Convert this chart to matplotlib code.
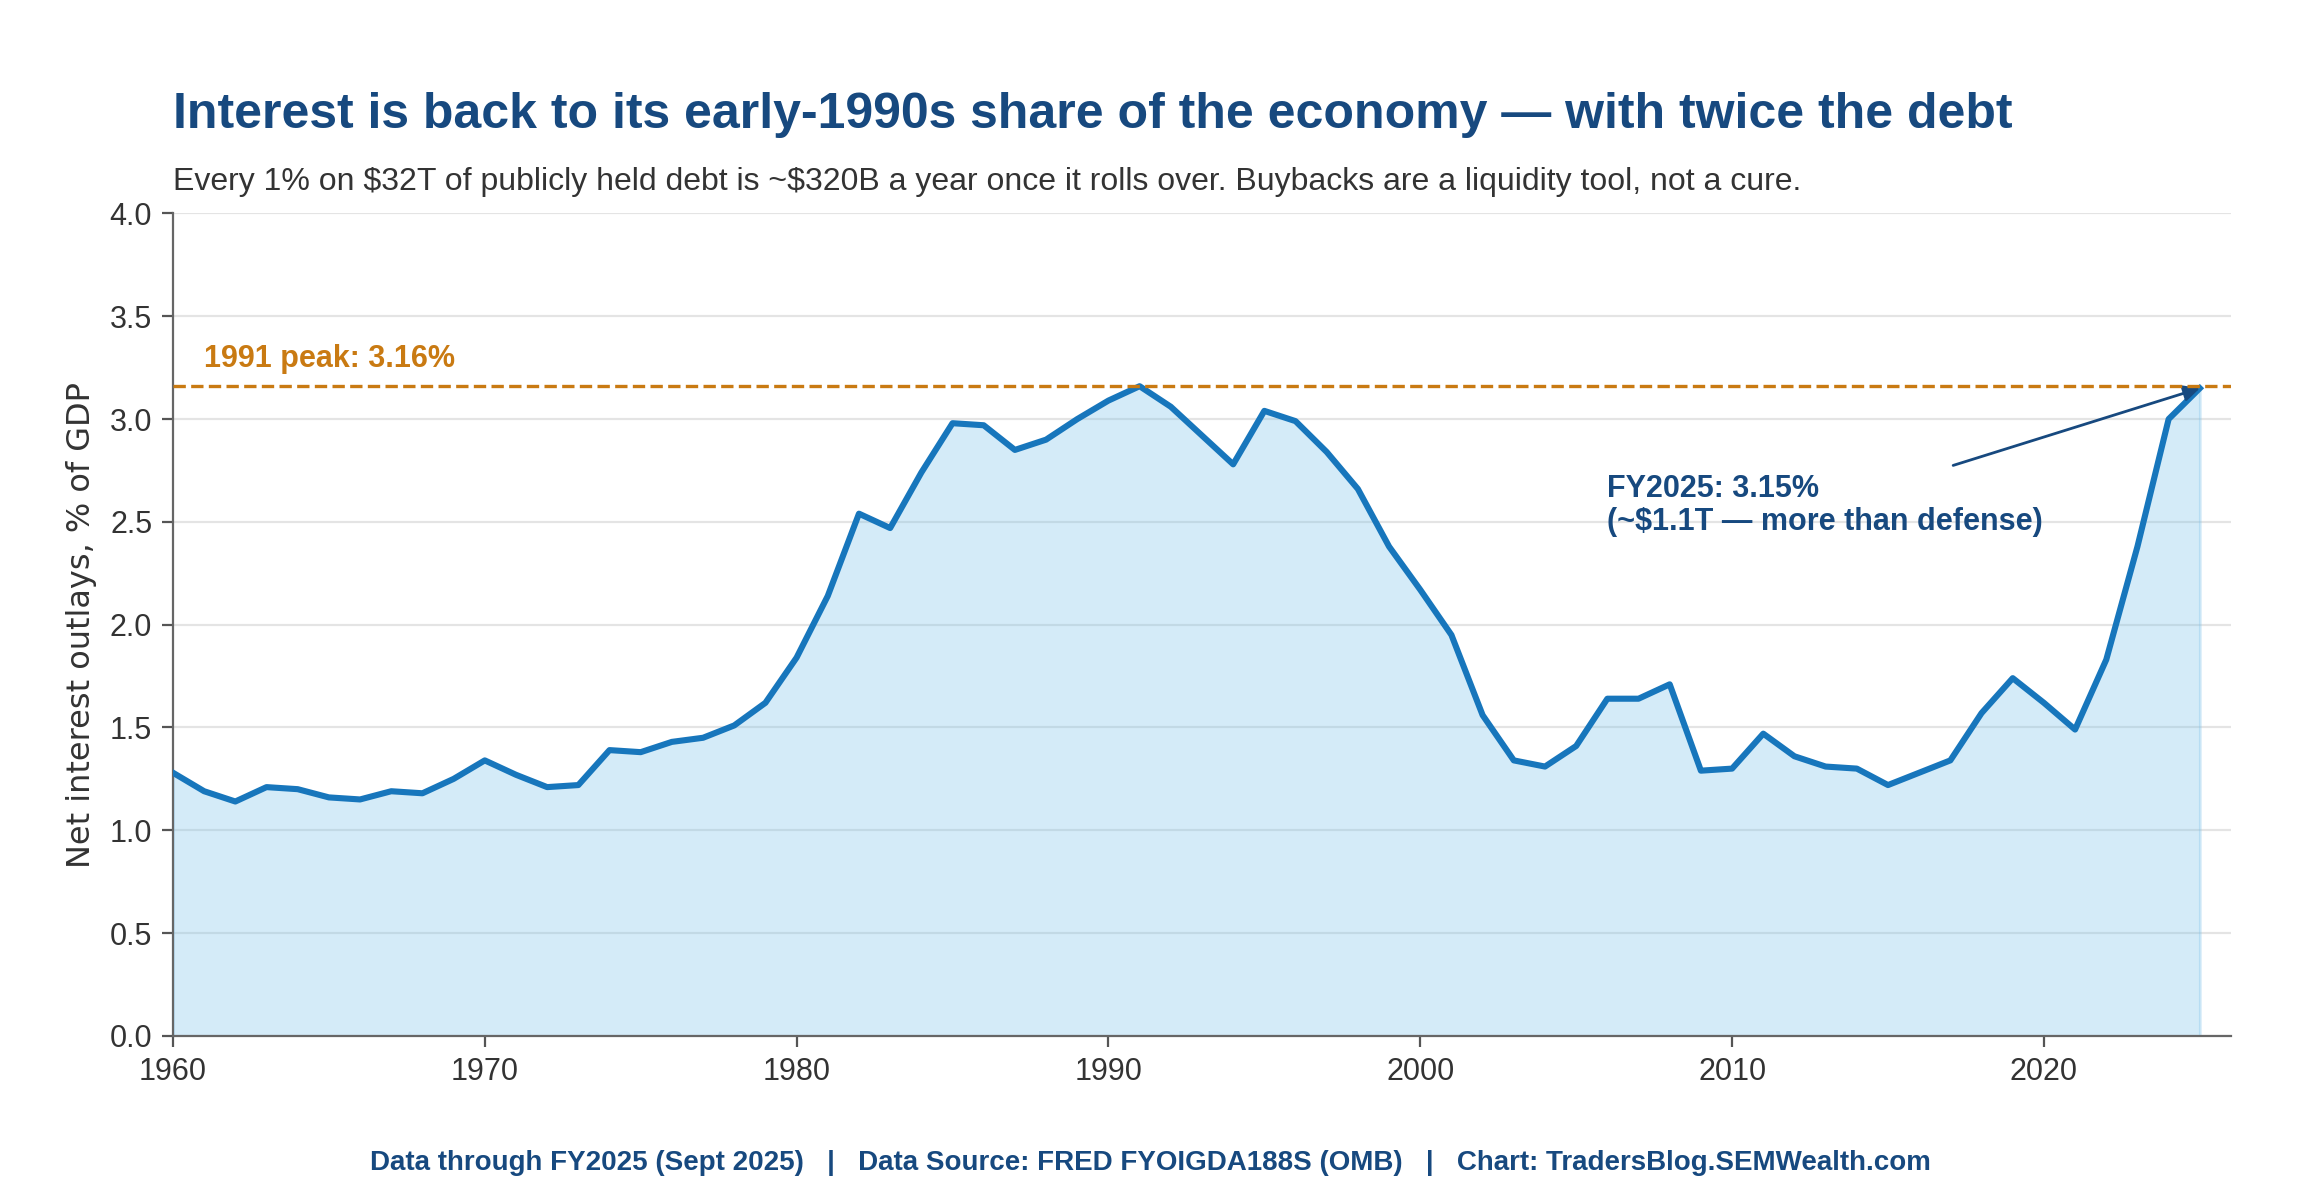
import numpy as np
import matplotlib
matplotlib.use('Agg')
import matplotlib.pyplot as plt
from matplotlib.ticker import FormatStrFormatter

# Net interest outlays as % of GDP, FY1960-FY2025
years = list(range(1960, 2026))
interest_pct = [
    1.28, 1.19, 1.14, 1.21, 1.20, 1.16, 1.15, 1.19, 1.18, 1.25,  # 1960s
    1.34, 1.27, 1.21, 1.22, 1.39, 1.38, 1.43, 1.45, 1.51, 1.62,  # 1970s
    1.84, 2.14, 2.54, 2.47, 2.74, 2.98, 2.97, 2.85, 2.90, 3.00,  # 1980s
    3.09, 3.16, 3.06, 2.92, 2.78, 3.04, 2.99, 2.84, 2.66, 2.38,  # 1990s
    2.17, 1.95, 1.56, 1.34, 1.31, 1.41, 1.64, 1.64, 1.71, 1.29,  # 2000s
    1.30, 1.47, 1.36, 1.31, 1.30, 1.22, 1.28, 1.34, 1.57, 1.74,  # 2010s
    1.62, 1.49, 1.83, 2.38, 3.00, 3.15,                          # 2020s
]
peak_1991 = 3.16
latest_year = 2025
latest_val = 3.15
x_ticks = [1960, 1970, 1980, 1990, 2000, 2010, 2020]
y_ticks = [0.0, 0.5, 1.0, 1.5, 2.0, 2.5, 3.0, 3.5, 4.0]

title = 'Interest is back to its early-1990s share of the economy \u2014 with twice the debt'
subtitle = ('Every 1% on $32T of publicly held debt is ~$320B a year once it rolls over. '
            'Buybacks are a liquidity tool, not a cure.')
footer = ('Data through FY2025 (Sept 2025)   |   Data Source: FRED FYOIGDA188S (OMB)   |   '
          'Chart: TradersBlog.SEMWealth.com')

navy = '#17497F'
line_blue = '#1776BC'
orange = '#C97A12'
text_gray = '#333333'

plt.rcParams['font.family'] = ['Liberation Sans', 'DejaVu Sans']

fig = plt.figure(figsize=(11.5, 5.95), dpi=200)
ax = fig.add_axes([0.0752, 0.1295, 0.8948, 0.6911])

ax.fill_between(years, interest_pct, 0, color='#7EC3EA', alpha=0.33, zorder=2)
ax.plot(years, interest_pct, color=line_blue, lw=2.2, zorder=3)

ax.axhline(peak_1991, color=orange, lw=1.2, ls='--', zorder=4)
ax.text(1961, 3.22, '1991 peak: 3.16%', color=orange, fontsize=11,
        fontweight='bold', ha='left', va='bottom')

ax.annotate('FY2025: 3.15%\n(~$1.1T \u2014 more than defense)',
            xy=(latest_year, latest_val), xytext=(2006, 2.58),
            ha='left', va='center', fontsize=11, fontweight='bold', color=navy,
            linespacing=1.1, parse_math=False,
            arrowprops=dict(arrowstyle='-|>', color=navy, lw=1.0,
                            mutation_scale=12, shrinkA=4, shrinkB=0))

ax.set_xlim(1960, 2026)
ax.set_ylim(0, 4)
ax.set_xticks(x_ticks)
ax.set_yticks(y_ticks)
ax.yaxis.set_major_formatter(FormatStrFormatter('%.1f'))
ax.tick_params(axis='both', labelsize=11, colors='#555555', labelcolor=text_gray,
               length=4, width=0.8)
ax.grid(axis='y', color='#E4E4E4', lw=0.8, zorder=1)
ax.set_axisbelow(True)
for side in ['top', 'right']:
    ax.spines[side].set_visible(False)
for side in ['left', 'bottom']:
    ax.spines[side].set_color('#666666')
    ax.spines[side].set_linewidth(0.8)

ax.set_ylabel('Net interest outlays, % of GDP', fontsize=11.5, color=text_gray,
              family='DejaVu Sans')
ax.yaxis.set_label_coords(-0.037, 0.5)

fig.text(0.0752, 0.903, title, fontsize=18, fontweight='bold', color=navy,
         ha='left', va='center')
fig.text(0.0752, 0.847, subtitle, fontsize=11.5, color=text_gray,
         ha='left', va='center', parse_math=False)
fig.text(0.5, 0.0225, footer, fontsize=10, fontweight='bold', color=navy,
         ha='center', va='center')

fig.savefig('out.png', dpi=200)
